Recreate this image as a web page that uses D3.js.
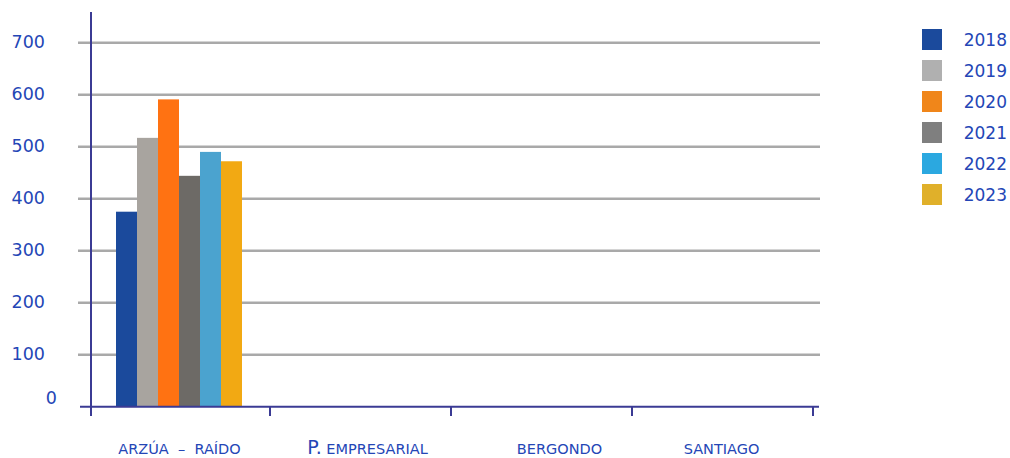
<!DOCTYPE html>
<html>
<head>
<meta charset="utf-8">
<script src="https://cdn.jsdelivr.net/npm/d3@7"></script>
<style>
  body { margin: 0; background: #fff; }
  text { font-family: "DejaVu Sans", sans-serif; fill: #2446b6; }
</style>
</head>
<body>
<div id="chart"></div>
<script>
var w = 1010;
var h = 458;

// values
var categories = ["ARZÚA – RAÍDO", "P. EMPRESARIAL", "BERGONDO", "SANTIAGO"];
var years = ["2018", "2019", "2020", "2021", "2022", "2023"];
var arzua = [375, 517, 591, 444, 490, 472];
var yTicks = [0, 100, 200, 300, 400, 500, 600, 700];

var barColors = ["#1b4a9c", "#a8a49f", "#ff7212", "#6d6a66", "#4ba3cf", "#f2a913"];
var legendColors = ["#1b4a9c", "#b0b0b0", "#f0861a", "#7f7f7f", "#2ba8e0", "#e0b02a"];

var svg = d3.select("#chart")
            .append("svg")
                .attr("width", w)
                .attr("height", h);

var x = d3.scaleBand()
    .domain(categories)
    .range([91, 815]);

var y = d3.scaleLinear()
    .domain([0, 700])
    .range([406.7, 42.7]);

var xInner = d3.scaleBand()
    .domain(years)
    .range([25, 151]);

// gridlines
svg.append("g")
    .selectAll("line")
    .data(yTicks.slice(1))
    .enter()
        .append("line")
        .attr("x1", 78)
        .attr("x2", 820)
        .attr("y1", function(d) { return y(d); })
        .attr("y2", function(d) { return y(d); })
        .attr("stroke", "#a9a9a9")
        .attr("stroke-width", 2.5);

// bars (only Arzúa has data)
svg.append("g")
    .selectAll("rect")
    .data(arzua)
    .enter()
        .append("rect")
        .attr("x", function(d, i) { return x(categories[0]) + xInner(years[i]); })
        .attr("width", xInner.bandwidth())
        .attr("y", function(d) { return y(d); })
        .attr("height", function(d) { return y(0) - y(d); })
        .attr("fill", function(d, i) { return barColors[i]; });

// x axis line + ticks
var axisColor = "#3b3b94";
svg.append("line")
    .attr("x1", 80).attr("x2", 819)
    .attr("y1", y(0)).attr("y2", y(0))
    .attr("stroke", axisColor)
    .attr("stroke-width", 2);

var tickXs = categories.map(function(c) { return x(c); }).concat([x.range()[1]]);
svg.append("g")
    .selectAll("line")
    .data(tickXs.slice(1))
    .enter()
        .append("line")
        .attr("x1", function(d) { return d - 2; })
        .attr("x2", function(d) { return d - 2; })
        .attr("y1", y(0))
        .attr("y2", 416)
        .attr("stroke", axisColor)
        .attr("stroke-width", 2);

// y axis line
svg.append("line")
    .attr("x1", 91).attr("x2", 91)
    .attr("y1", 12).attr("y2", 416)
    .attr("stroke", axisColor)
    .attr("stroke-width", 2);

// y tick labels
svg.append("g")
    .selectAll("text")
    .data(yTicks)
    .enter()
        .append("text")
        .attr("x", function(d) { return d === 0 ? 57 : 45; })
        .attr("y", function(d) { return d === 0 ? y(d) - 3 : y(d) + 5; })
        .attr("text-anchor", "end")
        .attr("font-size", 17.5)
        .text(function(d) { return d; });

// category labels
var labelShift = [-2, 5, 16, -3];
var catText = svg.append("g")
    .selectAll("text")
    .data(categories)
    .enter()
        .append("text")
        .attr("x", function(d, i) { return x(d) + x.bandwidth() / 2 + labelShift[i]; })
        .attr("y", 454)
        .attr("text-anchor", "middle")
        .attr("font-size", 14.5);

catText.each(function(d) {
    var t = d3.select(this);
    if (d.indexOf("P. ") === 0) {
        t.append("tspan").attr("font-size", 19).text("P.");
        t.append("tspan").text(" " + d.slice(3));
    } else {
        t.text(d.replace(" – ", "  –  "));
    }
}).attr("xml:space", "preserve");

// legend
var legend = svg.append("g")
    .selectAll("g")
    .data(years)
    .enter()
        .append("g")
        .attr("transform", function(d, i) {
            return "translate(922, " + (29 + i * 31) + ")";
        });

legend.append("rect")
    .attr("width", 20)
    .attr("height", 21)
    .attr("fill", function(d, i) { return legendColors[i]; });

legend.append("text")
    .attr("x", 85)
    .attr("y", 17)
    .attr("text-anchor", "end")
    .attr("font-size", 17)
    .text(function(d) { return d; });
</script>
</body>
</html>
